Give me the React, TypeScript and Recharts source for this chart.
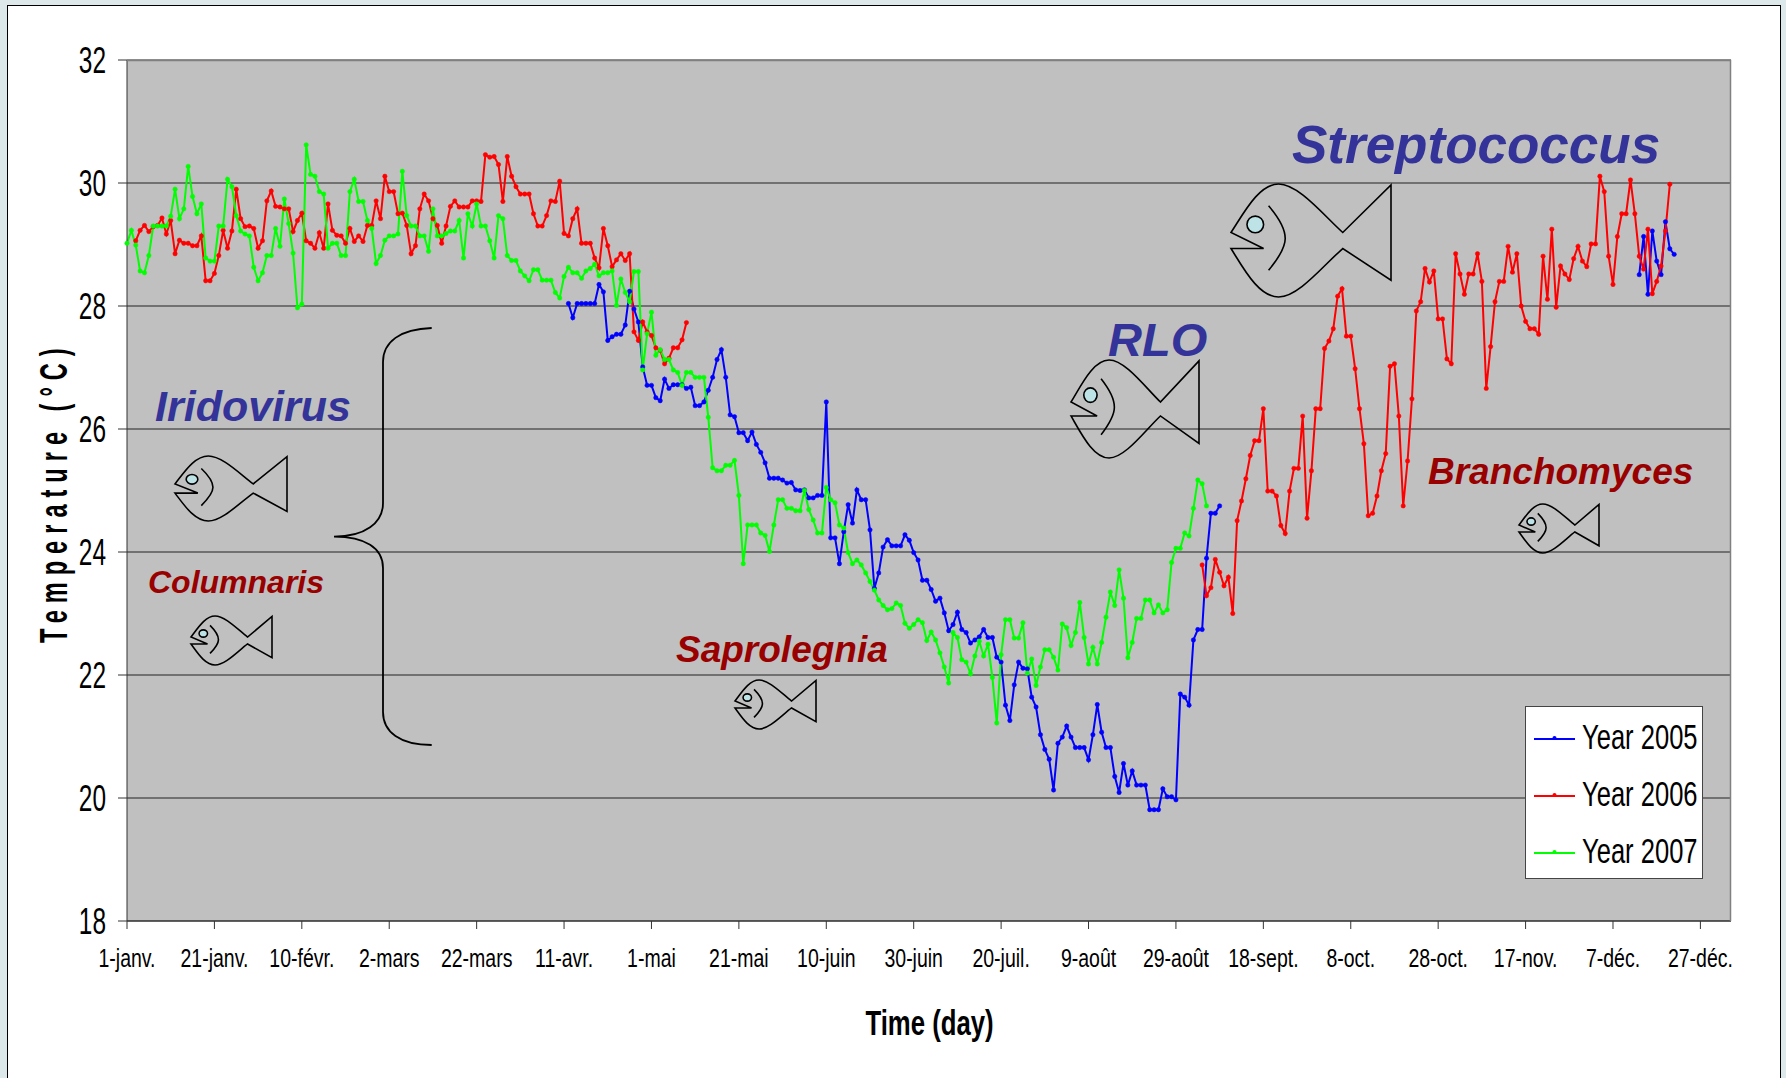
import React from 'react';
import { LineChart, Line, XAxis, YAxis, CartesianGrid, Legend } from 'recharts';

// temperatures, one value per day from the given start day
const start2005a = 101;
const temps2005a = [
  28.04, 27.81, 28.04, 28.04, 28.04, 28.04, 28.04, 28.35, 28.23, 27.44, 27.5, 27.54, 27.54, 27.69, 28.24, 27.95,
  27.74, 27.01, 26.71, 26.71, 26.51, 26.46, 26.81, 26.66, 26.72, 26.72, 26.72, 26.66, 26.68, 26.38, 26.38, 26.44,
  26.63, 26.84, 27.13, 27.29, 26.84, 26.23, 26.2, 25.94, 25.94, 25.81, 25.95, 25.75, 25.62, 25.45, 25.2, 25.2,
  25.2, 25.17, 25.12, 25.13, 25.01, 25.0, 25.01, 24.88, 24.88, 24.92, 24.92, 26.44, 24.23, 24.23, 23.81, 24.33,
  24.77, 24.47, 25.01, 24.85, 24.85, 24.36, 23.41, 23.66, 24.08, 24.2, 24.1, 24.1, 24.1, 24.28, 24.19, 23.99,
  23.87, 23.54, 23.54, 23.39, 23.2, 23.25, 23.01, 22.72, 22.82, 23.02, 22.74, 22.69, 22.52, 22.57, 22.62, 22.74,
  22.61, 22.61, 22.29, 22.21, 21.51, 21.26, 21.84, 22.21, 22.11, 22.1, 21.64, 21.48, 21.03, 20.79, 20.63, 20.13,
  20.89, 20.99, 21.17, 20.99, 20.82, 20.82, 20.82, 20.62, 21.03, 21.52, 21.07, 20.82, 20.82, 20.35, 20.09, 20.56,
  20.21, 20.44, 20.21, 20.21, 20.21, 19.81, 19.81, 19.81, 20.15, 20.02, 20.02, 19.97, 21.69, 21.64, 21.51, 22.57,
  22.74, 22.74, 23.9, 24.63, 24.63, 24.75,
];
const start2005b = 346;
const temps2005b = [28.51, 29.13, 28.19, 29.22, 28.73, 28.51, 29.37, 28.93, 28.84];

const start2006a = 2;
const temps2006a = [
  29.06, 29.23, 29.31, 29.21, 29.29, 29.31, 29.43, 29.17, 29.39, 28.85, 29.07, 29.02, 29.02, 28.98, 28.98,
  29.14, 28.41, 28.41, 28.53, 28.82, 29.23, 28.94, 29.22, 29.9, 29.42, 29.29, 29.3, 29.26, 28.94, 29.06, 29.71,
  29.87, 29.62, 29.61, 29.58, 29.58, 29.21, 29.39, 29.51, 29.06, 29.02, 28.94, 29.19, 28.94, 29.66, 29.23, 29.15,
  29.14, 29.02, 29.26, 29.05, 29.14, 29.05, 29.31, 29.31, 29.71, 29.42, 30.11, 29.86, 29.86, 29.5, 29.51, 29.31,
  28.85, 28.98, 29.58, 29.82, 29.71, 29.42, 29.31, 29.02, 29.3, 29.62, 29.71, 29.61, 29.61, 29.61, 29.71, 29.71,
  29.7, 30.46, 30.42, 30.43, 30.3, 29.7, 30.43, 30.11, 29.94, 29.82, 29.82, 29.82, 29.5, 29.3, 29.3, 29.47,
  29.71, 29.7, 30.03, 29.18, 29.14, 29.42, 29.58, 29.02, 29.02, 29.02, 28.78, 28.62, 29.26, 28.98, 28.64, 28.75,
  28.85, 28.74, 28.85, 27.58, 27.44, 27.74, 27.58, 27.52, 27.32, 27.28, 27.06, 27.15, 27.32, 27.32, 27.45, 27.73,
];
const start2006b = 246;
const temps2006b = [
  23.79, 23.29, 23.42, 23.88, 23.67, 23.45, 23.59, 23.0, 24.51, 24.83, 25.19, 25.57, 25.81, 25.81, 26.33, 24.99,
  24.99, 24.91, 24.43, 24.3, 24.99, 25.36, 25.36, 26.21, 24.55, 25.32, 26.33, 26.33, 27.31, 27.43, 27.63, 28.16,
  28.28, 27.51, 27.51, 26.98, 26.33, 25.76, 24.59, 24.63, 24.91, 25.32, 25.6, 27.02, 27.06, 26.21, 24.75, 25.48,
  26.49, 27.92, 28.07, 28.61, 28.39, 28.57, 27.79, 27.79, 27.14, 27.06, 28.85, 28.52, 28.19, 28.52, 28.52, 28.85,
  28.4, 26.66, 27.34, 28.07, 28.4, 28.4, 28.97, 28.55, 28.85, 28.0, 27.75, 27.63, 27.63, 27.54, 28.81, 28.11,
  29.25, 27.98, 28.65, 28.52, 28.43, 28.77, 28.97, 28.73, 28.64, 29.01, 29.01, 30.11, 29.86, 28.81, 28.35, 29.13,
  29.5, 29.5, 30.05, 29.5, 28.81, 28.6, 29.25, 28.2, 28.4, 28.65, 29.22, 29.98,
];

const start2007 = 0;
const temps2007 = [
  29.02, 29.23, 28.99, 28.57, 28.54, 28.82, 29.3, 29.3, 29.3, 29.3, 29.46, 29.9, 29.42, 29.58, 30.27, 29.78,
  29.5, 29.66, 28.78, 28.73, 28.73, 29.3, 29.3, 30.06, 29.94, 29.47, 29.22, 29.17, 29.14, 28.63, 28.41, 28.54,
  28.82, 28.82, 29.26, 28.97, 29.74, 29.34, 28.86, 27.97, 28.03, 30.62, 30.14, 30.11, 29.86, 29.82, 28.94, 29.02,
  29.02, 28.82, 28.82, 29.86, 30.06, 29.7, 29.7, 29.39, 29.26, 28.69, 28.82, 29.07, 29.14, 29.14, 29.17, 30.19,
  29.47, 29.3, 29.3, 29.14, 29.14, 28.89, 29.58, 29.14, 29.14, 29.18, 29.22, 29.22, 29.39, 28.78, 29.5, 29.3,
  29.66, 29.3, 29.3, 29.06, 28.78, 29.47, 29.42, 28.82, 28.74, 28.74, 28.57, 28.49, 28.41, 28.59, 28.59, 28.42,
  28.42, 28.42, 28.22, 28.13, 28.48, 28.63, 28.54, 28.54, 28.45, 28.57, 28.61, 28.68, 28.49, 28.54, 28.54, 28.57,
  28.01, 28.44, 28.22, 28.07, 28.56, 28.56, 26.96, 27.55, 27.9, 27.2, 27.29, 27.13, 27.13, 26.96, 26.92, 26.71,
  26.92, 26.92, 26.84, 26.84, 26.84, 26.19, 25.37, 25.32, 25.32, 25.41, 25.41, 25.49, 24.92, 23.81, 24.44, 24.44,
  24.44, 24.31, 24.27, 24.01, 24.44, 24.85, 24.85, 24.71, 24.71, 24.67, 24.67, 25.0, 24.69, 24.52, 24.31, 24.31,
  25.05, 24.85, 24.8, 24.44, 24.39, 23.99, 23.81, 23.87, 23.79, 23.66, 23.52, 23.38, 23.22, 23.13, 23.06, 23.08,
  23.17, 23.13, 22.84, 22.76, 22.82, 22.9, 22.85, 22.56, 22.7, 22.57, 22.36, 22.13, 21.87, 22.69, 22.61, 22.25,
  22.21, 22.02, 22.31, 22.55, 22.31, 22.5, 21.96, 21.22, 22.33, 22.9, 22.9, 22.6, 22.6, 22.85, 22.03, 22.26,
  21.83, 22.13, 22.41, 22.41, 22.29, 22.08, 22.83, 22.77, 22.48, 22.69, 23.18, 22.61, 22.18, 22.45, 22.18, 22.53,
  22.94, 23.35, 23.13, 23.71, 23.25, 22.28, 22.53, 22.92, 22.92, 23.22, 23.22, 23.01, 23.14, 23.01, 23.06, 23.83,
  24.06, 24.06, 24.31, 24.26, 24.71, 25.17, 25.11, 24.75,
];

const dayTicks = [0, 20, 40, 60, 80, 100, 120, 140, 160, 180, 200, 220, 240, 260, 280, 300, 320, 340, 360];
const dayLabels = [
  '1-janv.', '21-janv.', '10-févr.', '2-mars', '22-mars', '11-avr.', '1-mai', '21-mai', '10-juin', '30-juin',
  '20-juil.', '9-août', '29-août', '18-sept.', '8-oct.', '28-oct.', '17-nov.', '7-déc.', '27-déc.',
];
const tempTicks = [18, 20, 22, 24, 26, 28, 30, 32];

const FONT = '"Liberation Sans", Arial, sans-serif';
const BLUE = '#0000FF';
const RED = '#FF0000';
const GREEN = '#00FF00';

const toRows = (start: number, temps: number[]) => temps.map((temp, i) => ({ day: start + i, temp }));

const rows2005 = [...toRows(start2005a, temps2005a), { day: 300, temp: null }, ...toRows(start2005b, temps2005b)];
const rows2006 = [...toRows(start2006a, temps2006a), { day: 190, temp: null }, ...toRows(start2006b, temps2006b)];
const rows2007 = toRows(start2007, temps2007);

// the source picture is squeezed horizontally, so the axis text is too
const XTick = ({ x, y, payload }: any) => (
  <text
    transform={`translate(${x},${y + 38}) scale(0.78,1)`}
    textAnchor="middle"
    fontFamily={FONT}
    fontSize={25}
    fill="#000"
  >
    {dayLabels[dayTicks.indexOf(payload.value)]}
  </text>
);

const YTick = ({ x, y, payload }: any) => (
  <text
    transform={`translate(${x},${y + 13}) scale(0.66,1)`}
    textAnchor="end"
    fontFamily={FONT}
    fontSize={37}
    fill="#000"
  >
    {payload.value}
  </text>
);

const LegendBox = ({ payload }: any) => (
  <svg width={178} height={173} style={{ display: 'block' }}>
    <rect x={0.5} y={0.5} width={177} height={172} fill="#fff" stroke="#444" />
    {(payload || []).map((item: any, i: number) => (
      <g key={item.value} transform={`translate(0,${33 + i * 57})`}>
        <line x1={9} x2={50} y1={0} y2={0} stroke={item.color} strokeWidth={2} />
        <circle cx={29.5} cy={-1} r={2} fill={item.color} />
        <text
          transform="translate(57,10) scale(0.71,1)"
          fontFamily={FONT}
          fontSize={36}
          fill="#000"
        >
          {item.value}
        </text>
      </g>
    ))}
  </svg>
);

const Fish = ({ x, y, w, h }: { x: number; y: number; w: number; h: number }) => (
  <g transform={`translate(${x},${y}) scale(${w / 481},${h / 338}) translate(-152,-102)`} fill="none" stroke="#000" strokeWidth={1.6}>
    <path
      vectorEffect="non-scaling-stroke"
      d="M152,247 C190,190 235,102 295,102 C355,102 430,195 488,247 L633,105 L633,390 L488,295 C430,345 355,440 295,440 C235,440 190,355 152,295 L250,295 Z"
    />
    <path vectorEffect="non-scaling-stroke" d="M265,167 Q315,225 315,265 Q315,300 265,360" />
    <circle vectorEffect="non-scaling-stroke" cx={225} cy={223} r={25} fill="#BDE3E6" />
  </g>
);

const Note = ({ x, y, size, color, children }: any) => (
  <text x={x} y={y} fontFamily={FONT} fontSize={size} fontWeight="bold" fontStyle="italic" fill={color}>
    {children}
  </text>
);

export default function App() {
  return (
    <div style={{ position: 'absolute', left: 0, top: 0, width: 1786, height: 1078, background: '#DCE8EA', overflow: 'hidden' }}>
      <div style={{ position: 'absolute', left: 7, top: 5, width: 1772, height: 1100, background: '#fff', border: '1px solid #000' }} />
      <div style={{ position: 'absolute', left: 0, top: 0 }}>
        <LineChart width={1786} height={1078} margin={{ top: 60, right: 55, bottom: 107, left: 57 }}>
          <CartesianGrid vertical={false} stroke="#222" fill="#C0C0C0" />
          <XAxis
            type="number"
            dataKey="day"
            domain={[0, 367]}
            ticks={dayTicks}
            interval={0}
            height={50}
            tickSize={8}
            tickMargin={0}
            stroke="#333"
            tick={XTick}
          />
          <YAxis
            domain={[18, 32]}
            ticks={tempTicks}
            interval={0}
            width={70}
            tickSize={9}
            tickMargin={12}
            stroke="#333"
            tick={YTick}
          />
          <Legend
            layout="vertical"
            align="center"
            verticalAlign="middle"
            wrapperStyle={{ left: 1525, top: 706, width: 178, height: 173 }}
            content={LegendBox}
          />
          <Line data={rows2005} dataKey="temp" name="Year 2005" stroke={BLUE} strokeWidth={2} dot={{ r: 2.2, fill: BLUE, stroke: BLUE, strokeWidth: 0.5 }} activeDot={false} isAnimationActive={false} />
          <Line data={rows2006} dataKey="temp" name="Year 2006" stroke={RED} strokeWidth={2} dot={{ r: 2.2, fill: RED, stroke: RED, strokeWidth: 0.5 }} activeDot={false} isAnimationActive={false} />
          <Line data={rows2007} dataKey="temp" name="Year 2007" stroke={GREEN} strokeWidth={2} dot={{ r: 2.2, fill: GREEN, stroke: GREEN, strokeWidth: 0.5 }} activeDot={false} isAnimationActive={false} />
        </LineChart>
      </div>
      <svg width={1786} height={1078} style={{ position: 'absolute', left: 0, top: 0, pointerEvents: 'none' }}>
        <path d="M127,60.5 L1730.5,60.5 L1730.5,921" fill="none" stroke="#808080" strokeWidth={1.5} />
        <text transform="translate(66.7,643) rotate(-90) scale(0.62,1)" fontFamily={FONT} fontSize={38} fontWeight="bold" letterSpacing={11.3} fill="#000">
          Temperature (°C)
        </text>
        <text transform="translate(929.5,1035) scale(0.735,1)" textAnchor="middle" fontFamily={FONT} fontSize={35} fontWeight="bold" fill="#000">
          Time (day)
        </text>
        <path
          d="M431.7,328 C400,329 383,342 383,362 L383,503 C383,523 365,536.7 334,536.7 C365,536.7 383,548 383,568 L383,712 C383,732 400,745 431.7,745"
          fill="none"
          stroke="#000"
          strokeWidth={1.8}
        />
        <Note x={155} y={420.7} size={43} color="#333399">Iridovirus</Note>
        <Note x={148} y={593} size={32} color="#990000">Columnaris</Note>
        <Note x={676} y={662} size={37} color="#990000">Saprolegnia</Note>
        <Note x={1108} y={356} size={47} color="#333399">RLO</Note>
        <Note x={1292} y={163} size={53} color="#333399">Streptococcus</Note>
        <Note x={1428} y={484} size={37} color="#990000">Branchomyces</Note>
        <Fish x={175} y={456} w={112} h={65} />
        <Fish x={191} y={616} w={81} h={49} />
        <Fish x={735} y={680} w={81} h={49} />
        <Fish x={1071} y={360} w={128} h={98} />
        <Fish x={1231} y={184} w={160} h={113} />
        <Fish x={1519} y={504} w={80} h={49} />
      </svg>
    </div>
  );
}
